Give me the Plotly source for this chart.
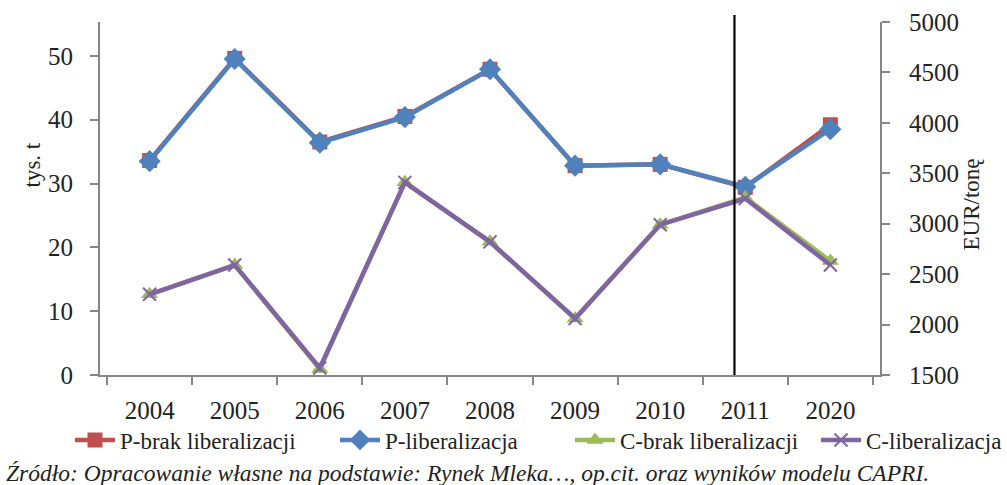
import plotly.graph_objects as go

# Data
years = ["2004", "2005", "2006", "2007", "2008", "2009", "2010", "2011", "2020"]
p_brak = [33.6, 49.6, 36.5, 40.5, 47.9, 32.8, 33.0, 29.4, 39.2]   # tys. t
p_lib = [33.5, 49.5, 36.4, 40.4, 47.9, 32.8, 33.0, 29.5, 38.5]    # tys. t
c_brak = [2300, 2590, 1560, 3410, 2820, 2060, 2990, 3260, 2630]   # EUR/tonę
c_lib = [2300, 2590, 1570, 3410, 2820, 2060, 2990, 3250, 2590]    # EUR/tonę
left_ticks = [0, 10, 20, 30, 40, 50]
right_ticks = [1500, 2000, 2500, 3000, 3500, 4000, 4500, 5000]
divider_pos = 6.873  # vertical marker between 2010 and 2011

FONT = "Liberation Serif"
AXIS_COLOR = "#868686"
TEXT_COLOR = "#222222"

# Page size and plot-area edges in pixels; the paper spans the whole page
W, H = 1007, 485
PL, PR, PT, PB = 100, 880, 22, 375


def fx(x):
    return x / W


def fy(y):
    return 1 - y / H


fig = go.Figure()

fig.add_trace(go.Scatter(
    x=years, y=p_brak, name="P-brak liberalizacji", mode="lines+markers",
    legend="legend",
    line=dict(color="#C0504D", width=4.5),
    marker=dict(symbol="square", size=15, color="#C0504D"),
))
fig.add_trace(go.Scatter(
    x=years, y=p_lib, name="P-liberalizacja", mode="lines+markers",
    legend="legend2",
    line=dict(color="#4F81BD", width=4.5),
    marker=dict(symbol="diamond", size=17, color="#4F81BD"),
))
fig.add_trace(go.Scatter(
    x=years, y=c_brak, name="C-brak liberalizacji", mode="lines+markers",
    yaxis="y2", legend="legend3",
    line=dict(color="#9BBB59", width=4.5),
    marker=dict(symbol="triangle-up", size=15, color="#9BBB59"),
))
fig.add_trace(go.Scatter(
    x=years, y=c_lib, name="C-liberalizacja", mode="lines+markers",
    yaxis="y2", legend="legend4",
    line=dict(color="#8064A2", width=4.5),
    marker=dict(symbol="x-thin", size=13, color="#8064A2",
                line=dict(color="#8064A2", width=2)),
))

fig.add_shape(
    type="line", xref="x", yref="paper",
    x0=divider_pos, x1=divider_pos, y0=fy(PB), y1=fy(15),
    line=dict(color="black", width=2.2),
)

fig.add_annotation(
    text="tys. t", xref="paper", yref="paper",
    x=fx(17), y=fy(165), textangle=-90, showarrow=False,
    font=dict(family=FONT, size=23, color=TEXT_COLOR),
)
fig.add_annotation(
    text="EUR/tonę", xref="paper", yref="paper",
    x=fx(985), y=fy(205), textangle=-90, showarrow=False,
    font=dict(family=FONT, size=23, color=TEXT_COLOR),
)
fig.add_annotation(
    text="<i>Źródło: Opracowanie własne na podstawie: Rynek Mleka…, op.cit. oraz wyników modelu CAPRI.</i>",
    xref="paper", yref="paper",
    x=fx(4), y=fy(473), xanchor="left", yanchor="middle",
    showarrow=False,
    font=dict(family=FONT, size=23.5, color=TEXT_COLOR),
)

axis_common = dict(
    ticks="outside", ticklen=8, tickcolor=AXIS_COLOR, tickwidth=2,
    showline=True, linecolor=AXIS_COLOR, linewidth=2,
    showgrid=False, zeroline=False, automargin=False,
    tickfont=dict(family=FONT, size=25, color=TEXT_COLOR),
)

# one single-entry legend per series, laid out in a row below the axis
legend_common = dict(
    orientation="h", xref="paper", yref="paper",
    y=fy(440), yanchor="middle",
    font=dict(family=FONT, size=23, color=TEXT_COLOR),
    itemwidth=40, bgcolor="rgba(0,0,0,0)",
)

fig.update_layout(
    width=W, height=H,
    margin=dict(l=0, r=0, t=0, b=0),
    paper_bgcolor="white", plot_bgcolor="white",
    font=dict(family=FONT, size=23, color=TEXT_COLOR),
    showlegend=True,
    legend=dict(x=fx(70), xanchor="left", **legend_common),
    legend2=dict(x=fx(335), xanchor="left", **legend_common),
    legend3=dict(x=fx(570), xanchor="left", **legend_common),
    legend4=dict(x=1.0, xanchor="right", **legend_common),
    xaxis=dict(
        type="category", tickson="boundaries", ticklabelstandoff=12,
        domain=[fx(PL), fx(PR)], anchor="y",
        **axis_common,
    ),
    yaxis=dict(
        range=[0, 55.3], tickvals=left_ticks, ticklabelstandoff=12,
        domain=[fy(PB), fy(PT)], anchor="x",
        **axis_common,
    ),
    yaxis2=dict(
        range=[1500, 5000], tickvals=right_ticks, overlaying="y", side="right",
        anchor="x", ticklabelstandoff=14,
        **axis_common,
    ),
)

fig.write_html("out.html")
